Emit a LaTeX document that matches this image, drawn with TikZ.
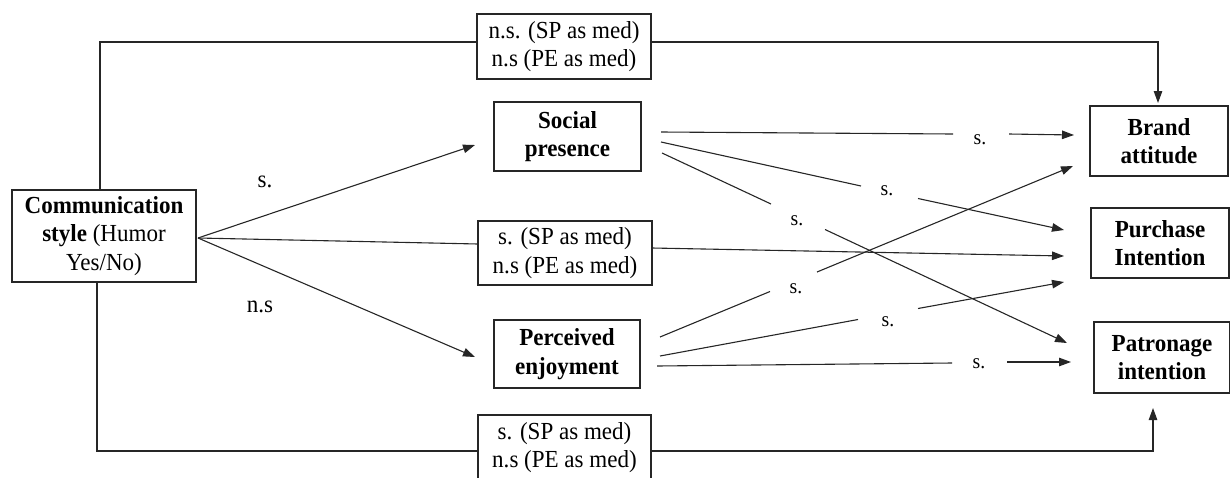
\documentclass[tikz,border=0pt]{standalone}
\usepackage{fontspec}
\setmainfont{Liberation Serif}[FakeStretch=0.94]
\usetikzlibrary{arrows.meta}
\begin{document}
\begin{tikzpicture}[x=1pt,y=-1pt,
  box/.style={draw=black!85, line width=1.2pt, align=center, inner sep=0pt, font=\fontsize{24.5}{28.5}\selectfont},
  conn/.style={draw=black!85, line width=1.1pt},
  arr/.style={conn, -{Triangle[length=12pt,width=8.5pt]}},
  lab/.style={inner sep=0pt, font=\fontsize{24.5}{28}\selectfont},
  slab/.style={inner sep=0pt, font=\fontsize{21}{24}\selectfont}]
\useasboundingbox (0,0) rectangle (1230,477);
% boxes
\node[box, minimum width=184pt, minimum height=92pt] (comm) at (104,236) {\textbf{Communication}\\\textbf{style} (Humor\\Yes/No)};
\node[box, minimum width=147pt, minimum height=69pt] (sp) at (567.5,136.5) {\textbf{Social}\\\textbf{presence}};
\node[box, minimum width=146pt, minimum height=68pt] (pe) at (567,354) {\textbf{Perceived}\\\textbf{enjoyment}};
\node[box, minimum width=138pt, minimum height=70pt] (brand) at (1159,141) {\textbf{Brand}\\\textbf{attitude}};
\node[box, minimum width=138pt, minimum height=70pt] (purch) at (1160,243) {\textbf{Purchase}\\\textbf{Intention}};
\node[box, minimum width=136pt, minimum height=71pt] (patr) at (1162,357.5) {\textbf{Patronage}\\\textbf{intention}};
\node[box, minimum width=174pt, minimum height=65pt] (topbox) at (564,46.5) {n.s. (SP as med)\\n.s (PE as med)};
\node[box, minimum width=174pt, minimum height=64pt] (midbox) at (565,253) {s. (SP as med)\\n.s (PE as med)};
\node[box, minimum width=173pt, minimum height=65pt] (botbox) at (564.5,447.5) {s. (SP as med)\\n.s (PE as med)};
% top path
\coordinate (tA) at (100,42);
\coordinate (tB) at (1158,42);
\coordinate (tC) at (1158,103);
\draw[conn] (tA |- comm.north) -- (tA) -- (tA -| topbox.west);
\draw[arr] (tA -| topbox.east) -- (tB) -- (tC);
% bottom path
\coordinate (bA) at (97,451);
\coordinate (bB) at (1153,451);
\coordinate (bC) at (1153,408);
\draw[conn] (bA |- comm.south) -- (bA) -- (bA -| botbox.west);
\draw[arr] (bA -| botbox.east) -- (bB) -- (bC);
% from communication style
\coordinate (cO) at (198,238);
\coordinate (spIn) at (475,145);
\coordinate (peIn) at (475,357);
\coordinate (midL) at (478,244);
\draw[arr] (cO) -- (spIn);
\draw[arr] (cO) -- (peIn);
\draw[conn] (cO) -- (midL);
\node[lab] (ls) at (265,182) {s.};
\node[lab] (lns) at (260,307) {n.s};
% middle to purchase
\coordinate (midR) at (652,248);
\coordinate (puM) at (1064,256);
\draw[arr] (midR) -- (puM);
% SP -> Brand
\coordinate (a1) at (661,132); \coordinate (a2) at (953,134);
\coordinate (a3) at (1009,134); \coordinate (a4) at (1074,135);
\draw[conn] (a1) -- (a2); \draw[arr] (a3) -- (a4);
\node[slab] (l1) at (980,140) {s.};
% SP -> Purchase
\coordinate (b1) at (661,142); \coordinate (b2) at (861,186);
\coordinate (b3) at (918,198.5); \coordinate (b4) at (1064,230);
\draw[conn] (b1) -- (b2); \draw[arr] (b3) -- (b4);
\node[slab] (l2) at (887,191) {s.};
% SP -> Patronage
\coordinate (c1) at (662,153); \coordinate (c2) at (771,204);
\coordinate (c3) at (825,229.5); \coordinate (c4) at (1067,343);
\draw[conn] (c1) -- (c2); \draw[arr] (c3) -- (c4);
\node[slab] (l3) at (797,221) {s.};
% PE -> Brand
\coordinate (d1) at (660,337); \coordinate (d2) at (770,291.5);
\coordinate (d3) at (817,272); \coordinate (d4) at (1073,166);
\draw[conn] (d1) -- (d2); \draw[arr] (d3) -- (d4);
\node[slab] (l4) at (796,289) {s.};
% PE -> Purchase
\coordinate (e1) at (660,356); \coordinate (e2) at (858,319.5);
\coordinate (e3) at (918,308.5); \coordinate (e4) at (1064,282);
\draw[conn] (e1) -- (e2); \draw[arr] (e3) -- (e4);
\node[slab] (l5) at (888,322) {s.};
% PE -> Patronage
\coordinate (f1) at (657,366); \coordinate (f2) at (952,363);
\coordinate (f3) at (1007,362); \coordinate (f4) at (1071,362);
\draw[conn] (f1) -- (f2); \draw[arr] (f3) -- (f4);
\node[slab] (l6) at (979,364) {s.};
\end{tikzpicture}
\end{document}
